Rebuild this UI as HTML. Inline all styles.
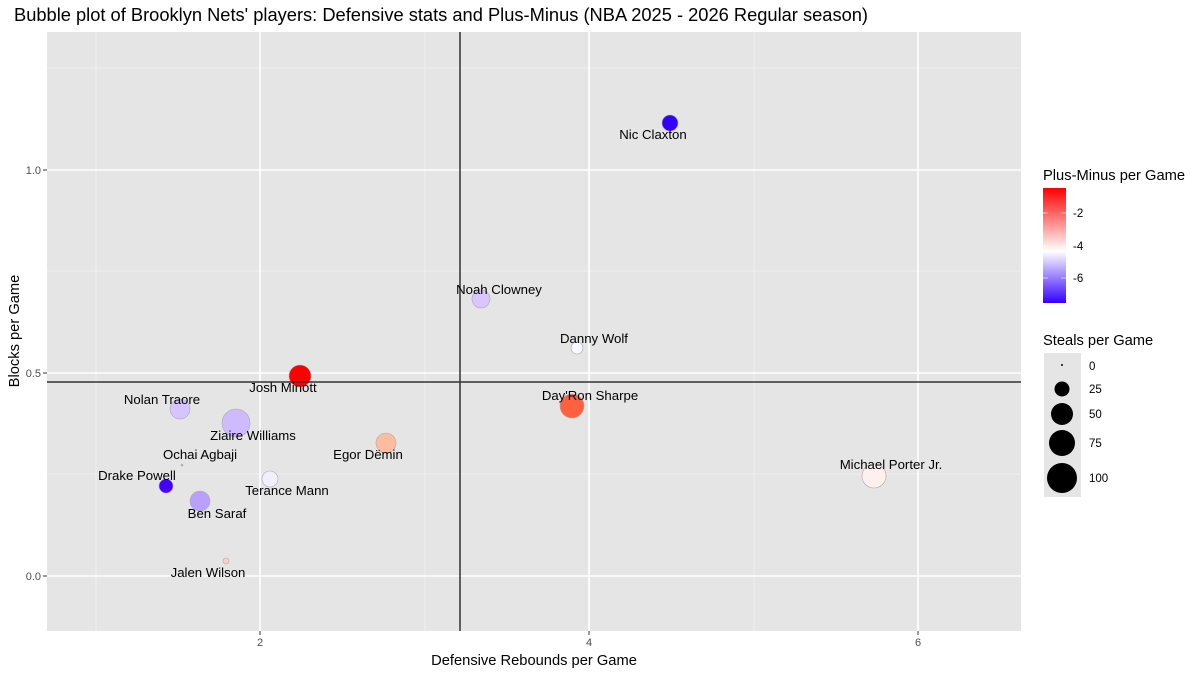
<!DOCTYPE html><html><head><style>body{margin:0;background:#fff}svg{font-family:"Liberation Sans",sans-serif}</style></head><body>
<svg width="1200" height="675" xmlns="http://www.w3.org/2000/svg">
<defs><linearGradient id="g" x1="0" y1="1" x2="0" y2="0"><stop offset="0" stop-color="#3300ff"/><stop offset="0.45" stop-color="#fff"/><stop offset="1" stop-color="#ff0000"/></linearGradient></defs>
<text x="14" y="21" font-size="18.3">Bubble plot of Brooklyn Nets' players: Defensive stats and Plus-Minus (NBA 2025 - 2026 Regular season)</text>
<rect x="47" y="32" width="974" height="599" fill="#e5e5e5"/>
<g stroke="#f2f2f2" stroke-width="0.8"><line x1="96" y1="32" x2="96" y2="631"/><line x1="425" y1="32" x2="425" y2="631"/><line x1="754" y1="32" x2="754" y2="631"/><line x1="47" y1="68" x2="1021" y2="68"/><line x1="47" y1="271" x2="1021" y2="271"/><line x1="47" y1="474" x2="1021" y2="474"/></g>
<g stroke="#fff" stroke-width="1.6"><line x1="260" y1="32" x2="260" y2="631"/><line x1="589" y1="32" x2="589" y2="631"/><line x1="918" y1="32" x2="918" y2="631"/><line x1="47" y1="170" x2="1021" y2="170"/><line x1="47" y1="373" x2="1021" y2="373"/><line x1="47" y1="576" x2="1021" y2="576"/></g>
<g stroke="#aaa" stroke-width="0.6">
<circle cx="670" cy="123" r="8" fill="#3300ff"/>
<circle cx="481" cy="299" r="9" fill="#d9c6ff"/>
<circle cx="577" cy="348" r="6" fill="#f8f8ff"/>
<circle cx="300" cy="376" r="11" fill="#ff0000"/>
<circle cx="572" cy="406" r="12" fill="#ff6040"/>
<circle cx="874" cy="476" r="12" fill="#fff0ee"/>
<circle cx="180" cy="409" r="10" fill="#d4c4ff"/>
<circle cx="236" cy="423" r="14" fill="#cdbaff"/>
<circle cx="386" cy="443" r="10" fill="#ffbba0"/>
<circle cx="182" cy="465" r="1" fill="#bbb"/>
<circle cx="166" cy="486" r="7" fill="#4400ff"/>
<circle cx="270" cy="479" r="8" fill="#f0eeff"/>
<circle cx="200" cy="501" r="10" fill="#b9a0ff"/>
<circle cx="226" cy="561" r="3" fill="#ffd0c0"/>
</g>
<g stroke="#333" stroke-width="1.5"><line x1="460" y1="32" x2="460" y2="631"/><line x1="47" y1="382" x2="1021" y2="382"/></g>
<g font-size="13.2" text-anchor="middle" fill="#000">
<text x="653" y="139">Nic Claxton</text><text x="499" y="294">Noah Clowney</text><text x="594" y="343">Danny Wolf</text><text x="283" y="392">Josh Minott</text><text x="590" y="400">Day'Ron Sharpe</text><text x="891" y="469">Michael Porter Jr.</text><text x="162" y="404">Nolan Traore</text><text x="253" y="440">Ziaire Williams</text><text x="368" y="459">Egor Dëmin</text><text x="200" y="459">Ochai Agbaji</text><text x="137" y="480">Drake Powell</text><text x="287" y="495">Terance Mann</text><text x="217" y="518">Ben Saraf</text><text x="208" y="577">Jalen Wilson</text>
</g>
<g font-size="11" fill="#4d4d4d" text-anchor="end"><text x="41" y="174">1.0</text><text x="41" y="377">0.5</text><text x="41" y="580">0.0</text></g>
<g stroke="#333"><line x1="43" y1="170" x2="47" y2="170"/><line x1="43" y1="373" x2="47" y2="373"/><line x1="43" y1="576" x2="47" y2="576"/><line x1="260" y1="631" x2="260" y2="635"/><line x1="589" y1="631" x2="589" y2="635"/><line x1="918" y1="631" x2="918" y2="635"/></g>
<g font-size="11" fill="#4d4d4d" text-anchor="middle"><text x="260" y="646">2</text><text x="589" y="646">4</text><text x="918" y="646">6</text></g>
<text x="534" y="665" font-size="14.7" text-anchor="middle">Defensive Rebounds per Game</text>
<text transform="translate(19,331) rotate(-90)" font-size="14.7" text-anchor="middle">Blocks per Game</text>
<text x="1043" y="180" font-size="14.7">Plus-Minus per Game</text>
<rect x="1043" y="188" width="23" height="115" fill="url(#g)"/>
<g stroke="#fff" stroke-opacity="0.6"><line x1="1043" y1="213" x2="1048" y2="213"/><line x1="1061" y1="213" x2="1066" y2="213"/><line x1="1043" y1="246" x2="1048" y2="246"/><line x1="1061" y1="246" x2="1066" y2="246"/><line x1="1043" y1="278" x2="1048" y2="278"/><line x1="1061" y1="278" x2="1066" y2="278"/></g>
<g font-size="11.5"><text x="1073" y="217">-2</text><text x="1073" y="250">-4</text><text x="1073" y="282">-6</text></g>
<text x="1043" y="345" font-size="14.7">Steals per Game</text>
<rect x="1044" y="353" width="37" height="144" fill="#e5e5e5"/>
<g fill="#000"><circle cx="1062" cy="365" r="1"/><circle cx="1062" cy="389" r="7.5"/><circle cx="1062" cy="414" r="11"/><circle cx="1062" cy="443" r="13"/><circle cx="1062" cy="478" r="15"/></g>
<g font-size="11.5"><text x="1089" y="370">0</text><text x="1089" y="393">25</text><text x="1089" y="418">50</text><text x="1089" y="447">75</text><text x="1089" y="482">100</text></g>
</svg></body></html>
